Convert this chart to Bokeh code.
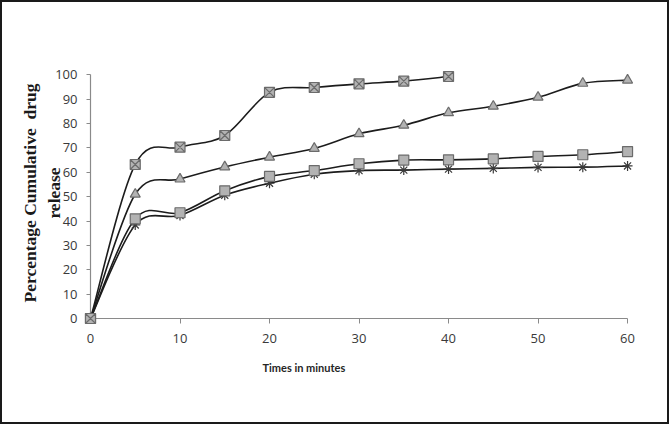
from bokeh.plotting import figure
from bokeh.models import Range1d, FixedTicker, Title
from bokeh.embed import file_html
from bokeh.resources import INLINE

# ---- data ----
time_x = [0, 5, 10, 15, 20, 25, 30, 35, 40]
series_x = [0, 63.2, 70.3, 75.1, 92.8, 94.8, 96.3, 97.4, 99.3]

time_all = [0, 5, 10, 15, 20, 25, 30, 35, 40, 45, 50, 55, 60]
series_tri = [0, 51.0, 57.2, 62.2, 66.2, 69.8, 75.8, 79.3, 84.4, 87.1, 90.8, 96.5, 97.8]
series_sq = [0, 40.9, 43.4, 52.4, 58.3, 60.7, 63.5, 65.0, 65.1, 65.5, 66.5, 67.2, 68.5]
series_ast = [0, 38.4, 42.3, 50.6, 55.5, 59.2, 60.7, 60.9, 61.3, 61.6, 62.0, 62.1, 62.6]

x_ticks = [0, 10, 20, 30, 40, 50, 60]
y_ticks = [0, 10, 20, 30, 40, 50, 60, 70, 80, 90, 100]

LINE = "#1c1c1c"
MFILL = "#b3b3b3"
MLINE = "#6b6b6b"

p = figure(width=669, height=424, output_backend="svg", toolbar_location=None,
           x_range=Range1d(0, 61), y_range=Range1d(0, 103),
           min_border_left=88, min_border_right=35, min_border_top=65, min_border_bottom=108)
p.styles = {"border": "2px solid #1a1a1a"}
p.xgrid.visible = False
p.ygrid.visible = False
p.outline_line_color = None
p.background_fill_color = "white"
p.border_fill_color = "white"


def smooth(xs, ys, color):
    # Excel-style smoothed line drawn with Bokeh bezier segments
    n = len(xs)
    x0, y0, x1, y1, cx0, cy0, cx1, cy1 = [], [], [], [], [], [], [], []
    for i in range(n - 1):
        pa = (xs[i - 1], ys[i - 1]) if i > 0 else (xs[i], ys[i])
        pb = (xs[i], ys[i])
        pc = (xs[i + 1], ys[i + 1])
        pd = (xs[i + 2], ys[i + 2]) if i + 2 < n else (xs[i + 1], ys[i + 1])
        x0.append(pb[0]); y0.append(pb[1]); x1.append(pc[0]); y1.append(pc[1])
        cx0.append(pb[0] + (pc[0] - pa[0]) / 6.0)
        cy0.append(pb[1] + (pc[1] - pa[1]) / 6.0)
        cx1.append(pc[0] - (pd[0] - pb[0]) / 6.0)
        cy1.append(pc[1] - (pd[1] - pb[1]) / 6.0)
    p.bezier(x0=x0, y0=y0, x1=x1, y1=y1, cx0=cx0, cy0=cy0, cx1=cx1, cy1=cy1,
             line_color=color, line_width=1.6, level="overlay")


smooth(time_x, series_x, LINE)
smooth(time_all, series_tri, LINE)
smooth(time_all, series_sq, LINE)
smooth(time_all, series_ast, LINE)

p.scatter(time_all, series_ast, marker="asterisk", size=10, line_color="#3a3a3a",
          line_width=1.2, level="overlay")
p.scatter(time_all, series_sq, marker="square", size=10, fill_color=MFILL, line_color=MLINE,
          line_width=1.2, level="overlay")
p.scatter(time_all, series_tri, marker="triangle", size=10, fill_color=MFILL, line_color=MLINE,
          line_width=1.2, level="overlay")
p.scatter(time_x, series_x, marker="square_x", size=10, fill_color=MFILL, line_color=MLINE,
          line_width=1.2, level="overlay")

# axes
p.xaxis.bounds = (0, 60)
p.yaxis.bounds = (0, 100)
p.xaxis.ticker = FixedTicker(ticks=x_ticks)
p.yaxis.ticker = FixedTicker(ticks=y_ticks)
for ax in (p.xaxis, p.yaxis):
    ax.axis_line_color = "#8a8a8a"
    ax.axis_line_width = 1.2
    ax.major_tick_line_color = "#8a8a8a"
    ax.major_tick_in = 0
    ax.minor_tick_line_color = None
    ax.major_label_text_font = "Open Sans"
    ax.major_label_text_font_size = "13px"
    ax.major_label_text_color = "#3a3a3a"
p.xaxis.major_tick_out = 5
p.xaxis.major_label_standoff = 10
p.yaxis.major_tick_out = 4
p.yaxis.major_label_standoff = 9

# axis titles
p.yaxis.axis_label = "Percentage Cumulative\u00a0 drug\nrelease"
p.yaxis.axis_label_text_font = "Liberation Serif"
p.yaxis.axis_label_text_font_style = "bold"
p.yaxis.axis_label_text_font_size = "17.5px"
p.yaxis.axis_label_text_color = "#1a1a1a"
p.yaxis.axis_label_standoff = -12

p.add_layout(Title(text="Times in minutes", align="left", offset=172, standoff=26,
                   text_font="Lato", text_font_style="bold",
                   text_font_size="11px", text_color="#262626"), "below")

open("out.html", "w").write(file_html(p, INLINE))
